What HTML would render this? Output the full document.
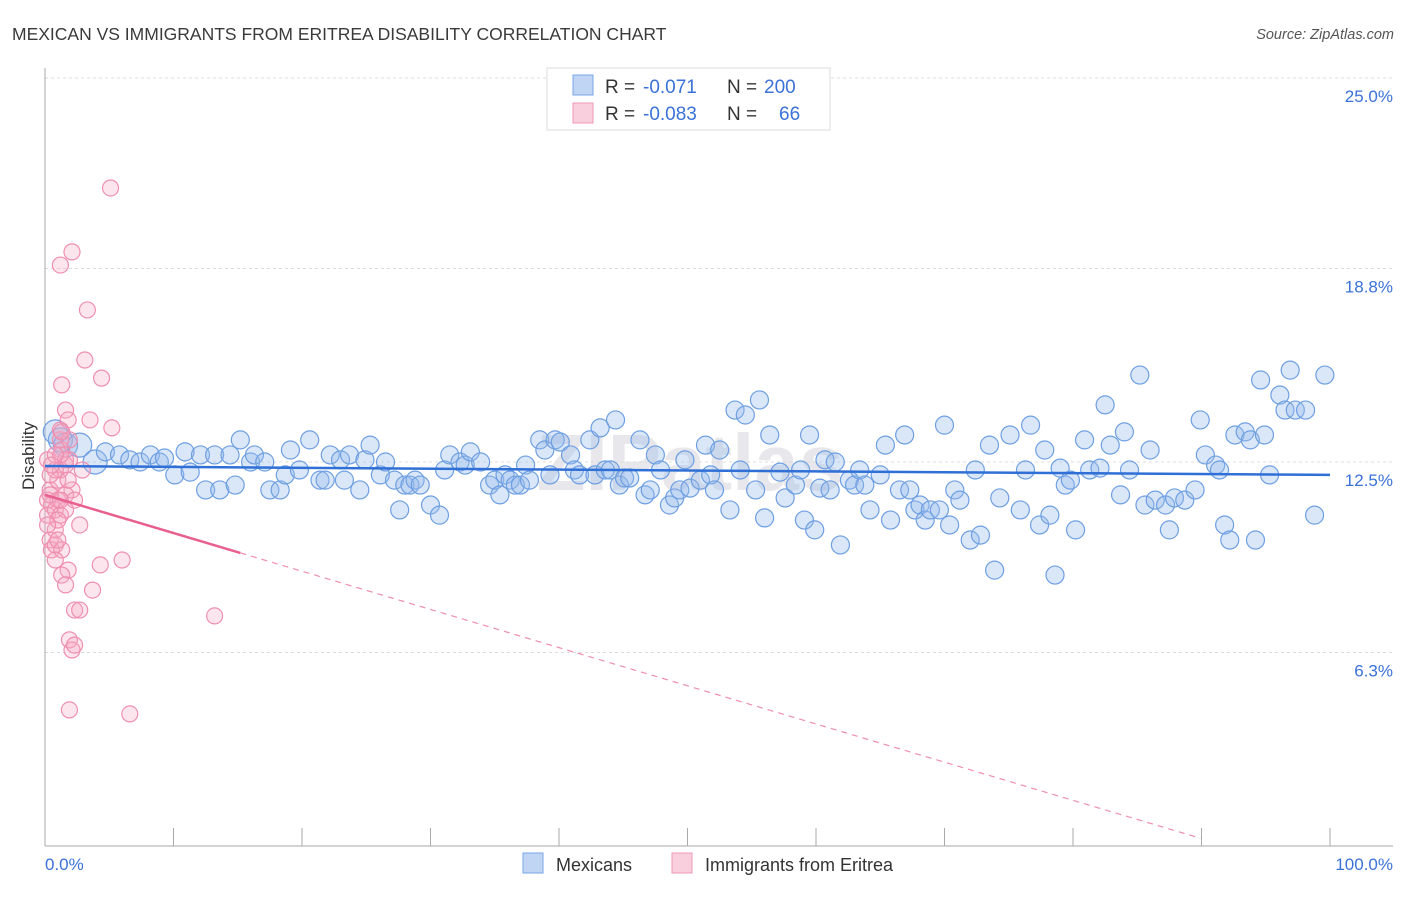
<!DOCTYPE html>
<html><head><meta charset="utf-8"><style>
body{margin:0;background:#fff;font-family:"Liberation Sans",sans-serif;}
svg text{font-family:"Liberation Sans",sans-serif;}
</style></head><body>
<svg id="chart" width="1406" height="892" xmlns="http://www.w3.org/2000/svg">
<text x="12" y="40" font-size="17.5" fill="#3a3a3a">MEXICAN VS IMMIGRANTS FROM ERITREA DISABILITY CORRELATION CHART</text>
<text x="1394" y="39" font-size="14.5" fill="#555" text-anchor="end" font-style="italic">Source: ZipAtlas.com</text>
<text x="690" y="490" font-size="80" fill="#e8e8ec" text-anchor="middle" font-weight="bold">ZIPatlas</text>
<g id="grid"></g>
<g id="axes"></g>
<g id="pts"></g>
<g id="trend"></g>
<text transform="translate(34,456) rotate(-90)" font-size="17" fill="#333" text-anchor="middle">Disability</text>
<g>
<rect x="547" y="68" width="283" height="62" fill="#fff" stroke="#ddd"/>
<rect x="573" y="75" width="20" height="20" fill="rgba(150,185,235,0.6)" stroke="#7aa6e6"/>
<rect x="573" y="103" width="20" height="20" fill="rgba(245,175,200,0.6)" stroke="#ee99b5"/>
<text x="605" y="93" font-size="19" fill="#333">R =</text>
<text x="643" y="93" font-size="19" fill="#3a72d8">-0.071</text>
<text x="727" y="93" font-size="19" fill="#333">N =</text>
<text x="764" y="93" font-size="19" fill="#3a72d8">200</text>
<text x="605" y="120" font-size="19" fill="#333">R =</text>
<text x="643" y="120" font-size="19" fill="#3a72d8">-0.083</text>
<text x="727" y="120" font-size="19" fill="#333">N =</text>
<text x="779" y="120" font-size="19" fill="#3a72d8">66</text>
</g>
<g>
<rect x="523" y="853" width="20" height="20" fill="rgba(150,185,235,0.6)" stroke="#7aa6e6"/>
<text x="556" y="871" font-size="18" fill="#333">Mexicans</text>
<rect x="672" y="853" width="20" height="20" fill="rgba(245,175,200,0.6)" stroke="#ee99b5"/>
<text x="705" y="871" font-size="18" fill="#333">Immigrants from Eritrea</text>
</g>
</svg>
<script>
const mexX=[1.2,0.8,1.6,2.7,3.9,4.7,5.8,6.6,7.4,8.2,8.9,9.3,10.1,10.9,11.3,12.1,12.5,13.2,13.6,14.4,14.8,15.2,16.0,16.3,17.1,17.5,18.3,18.7,19.1,19.8,20.6,21.4,21.8,22.2,23.0,23.3,23.7,24.5,24.9,25.3,26.1,26.5,27.2,27.6,28.0,28.4,28.8,29.2,30.0,30.7,31.1,31.5,32.3,32.7,33.1,33.9,34.6,35.0,35.4,35.8,36.2,36.6,37.0,37.4,37.7,38.5,38.9,39.3,39.7,40.1,40.9,41.2,41.6,42.4,42.8,43.2,43.6,44.0,44.4,44.7,45.1,45.5,46.3,46.7,47.1,47.5,47.9,48.6,49.0,49.4,49.8,50.2,51.0,51.4,51.8,52.1,52.5,53.3,53.7,54.1,54.5,55.3,55.6,56.0,56.4,57.2,57.6,58.4,58.8,59.1,59.5,59.9,60.3,60.7,61.1,61.5,61.9,62.6,63.0,63.4,63.8,64.2,65.0,65.4,65.8,66.5,66.9,67.3,67.7,68.1,68.5,68.9,69.6,70.0,70.4,70.8,71.2,72.0,72.4,72.8,73.5,73.9,74.3,75.1,75.9,76.3,76.7,77.4,77.8,78.2,78.6,79.0,79.4,79.8,80.2,80.9,81.3,82.1,82.5,82.9,83.7,84.0,84.4,85.2,85.6,86.0,86.4,87.2,87.5,87.9,88.7,89.5,89.9,90.3,91.1,91.4,91.8,92.2,92.6,93.4,93.8,94.2,94.6,94.9,95.3,96.1,96.5,96.9,97.3,98.1,98.8,99.6];
const mexY=[13.22,13.48,13.05,13.05,12.5,12.83,12.73,12.57,12.5,12.73,12.5,12.63,12.08,12.83,12.17,12.73,11.59,12.73,11.59,12.73,11.75,13.22,12.5,12.73,12.5,11.59,11.59,12.08,12.89,12.24,13.22,11.91,11.91,12.73,12.57,11.91,12.73,11.59,12.57,13.05,12.08,12.5,11.91,10.94,11.75,11.75,11.91,11.75,11.10,10.77,12.24,12.73,12.5,12.40,12.83,12.5,11.75,11.91,11.43,12.08,11.91,11.75,11.75,12.40,11.91,13.22,12.89,12.08,13.22,13.15,12.73,12.24,12.08,13.22,12.08,13.61,12.24,12.24,13.87,11.75,11.98,11.98,13.22,11.43,11.59,12.73,12.24,11.10,11.33,11.59,12.57,11.65,11.91,13.05,12.08,11.59,12.89,10.94,14.19,12.24,14.03,11.59,14.52,10.68,13.38,12.17,11.33,11.75,12.24,10.61,13.38,10.29,11.65,12.57,11.59,12.5,9.80,11.91,11.75,12.24,11.75,10.94,12.08,13.05,10.61,11.59,13.38,11.59,10.94,11.10,10.61,10.94,10.94,13.70,10.45,11.59,11.26,9.96,12.24,10.12,13.05,8.98,11.33,13.38,10.94,12.24,13.70,10.45,12.89,10.77,8.82,12.30,11.75,11.91,10.29,13.22,12.24,12.30,14.36,13.05,11.43,13.48,12.24,15.33,11.10,12.89,11.26,11.10,10.29,11.33,11.26,11.59,13.87,12.73,12.40,12.24,10.45,9.96,13.38,13.48,13.22,9.96,15.17,13.38,12.08,14.68,14.19,15.49,14.19,14.19,10.77,15.33];
const eriX=[0.2,0.4,0.5,0.2,0.4,0.5,0.8,0.2,0.8,1.0,1.2,0.8,1.3,1.2,1.3,1.6,1.2,1.0,1.6,1.3,1.6,1.2,1.8,1.9,2.1,1.6,1.8,1.3,1.6,1.9,2.1,2.3,1.9,2.3,2.7,2.7,2.9,3.1,3.3,3.5,3.7,4.3,4.4,5.2,5.1,1.2,2.1,6.0,6.6,13.2,1.2,0.8,0.4,1.0,1.6,1.9,0.8,0.5,0.2,0.4,1.3,1.2,0.8,1.0,1.8,2.3];
const eriY=[12.57,11.59,11.10,10.77,9.96,9.64,10.29,11.26,10.94,11.26,10.77,9.80,9.64,13.22,12.89,12.57,12.24,11.91,12.40,15.01,14.19,13.54,13.87,12.57,11.59,10.94,8.98,8.82,8.50,6.71,6.38,6.54,4.43,7.68,7.68,10.45,12.24,15.82,17.45,13.87,8.33,9.15,15.23,13.61,21.42,18.91,19.34,9.31,4.30,7.49,12.73,12.24,12.08,10.61,11.43,13.22,12.73,12.40,10.45,11.43,13.48,11.26,9.31,9.96,11.91,11.26];
const mexTrend=[12.37,12.08];
const eriTrend=[11.43,-0.1243,15.2,89.9];
const yTicks=[6.3,12.5,18.8,25.0];
const xTicks=[0,10,20,30,40,50,60,70,80,90,100];
const NS="http://www.w3.org/2000/svg";
const X=v=>45+v*12.85, Y=v=>846-v*30.72;
function mk(tag,attrs,parent){const e=document.createElementNS(NS,tag);for(const k in attrs)e.setAttribute(k,attrs[k]);parent.appendChild(e);return e;}
const grid=document.getElementById('grid'),axes=document.getElementById('axes'),pts=document.getElementById('pts'),trend=document.getElementById('trend');
yTicks.forEach(t=>{
  const l=mk('line',{x1:45,x2:1393,y1:Y(t),y2:Y(t),stroke:'#dcdcdc','stroke-dasharray':'3,3'},grid);
  
  
  const tx=mk('text',{x:1393,y:Y(t)+24,'font-size':17,fill:'#3a72d8','text-anchor':'end'},axes);
  tx.textContent=t.toFixed(1)+'%';
  
  
});
const ya=mk('line',{x1:45,x2:45,y1:68,y2:846,stroke:'#aaa'},axes);


const xa=mk('line',{x1:45,x2:1393,y1:846,y2:846,stroke:'#aaa'},axes);


xTicks.forEach(t=>{
  const l=mk('line',{x1:X(t),x2:X(t),y1:828,y2:846,stroke:'#aaa'},axes);
  
  
});
[[0,'0.0%','start',45],[100,'100.0%','end',1393]].forEach(a=>{
  const tx=mk('text',{x:a[3],y:870,'font-size':17,fill:'#3a72d8','text-anchor':a[2]},axes);
  tx.textContent=a[1];
  
  
});
mexX.forEach((v,i)=>{
  const c=mk('circle',{cx:X(v),cy:Y(mexY[i]),r:i<5?12:9,fill:'rgba(150,185,235,0.35)',stroke:'#6e9fe2','stroke-width':1.2},pts);
  
  
});
eriX.forEach((v,i)=>{
  const c=mk('circle',{cx:X(v),cy:Y(eriY[i]),r:8,fill:'rgba(245,170,195,0.3)',stroke:'#ef8fb0','stroke-width':1.2},pts);
  
  
});
const mt=mk('line',{x1:X(0),y1:Y(mexTrend[0]),x2:X(100),y2:Y(mexTrend[1]),stroke:'#2f6fd6','stroke-width':2.5},trend);


const ef=x=>eriTrend[0]+eriTrend[1]*x;
const es=mk('line',{x1:X(0),y1:Y(ef(0)),x2:X(eriTrend[2]),y2:Y(ef(eriTrend[2])),stroke:'#e8608f','stroke-width':2.5},trend);


const ed=mk('line',{x1:X(eriTrend[2]),y1:Y(ef(eriTrend[2])),x2:X(eriTrend[3]),y2:Y(ef(eriTrend[3])),stroke:'#ef8fb0','stroke-width':1.2,'stroke-dasharray':'6,5'},trend);


</script>
</body></html>
